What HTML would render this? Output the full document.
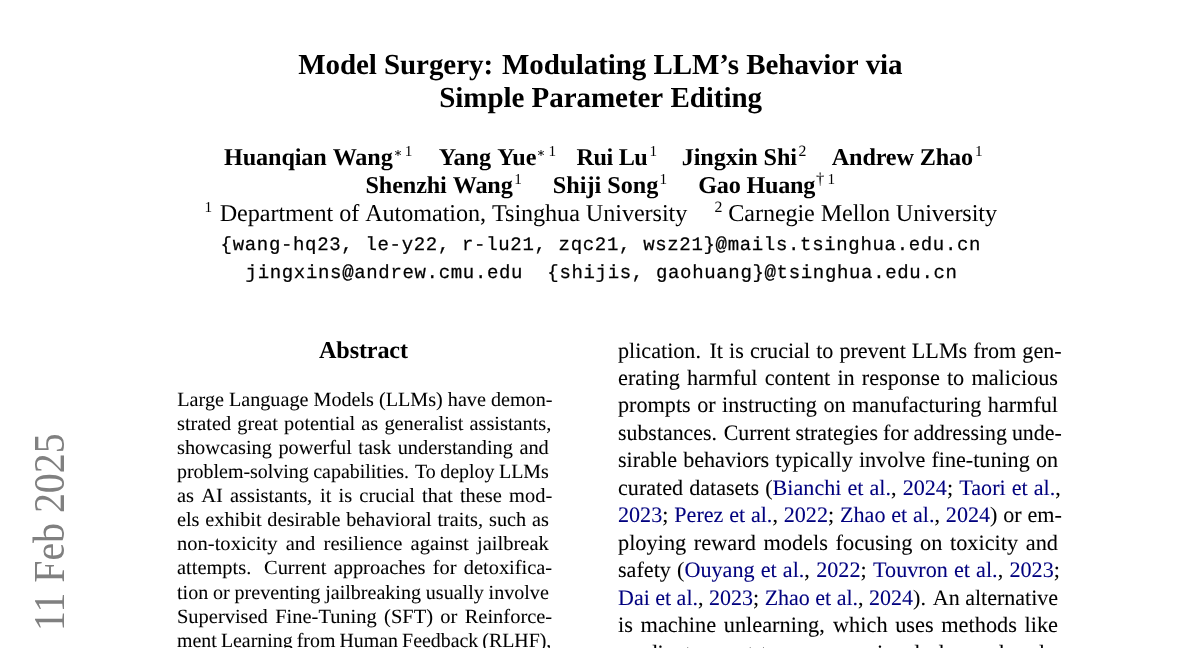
<!DOCTYPE html>
<html lang="en"><head><meta charset="utf-8"><title>Model Surgery: Modulating LLM's Behavior via Simple Parameter Editing</title>
<style>
html,body{margin:0;padding:0;background:#fff;}
body{width:1200px;height:648px;position:relative;overflow:hidden;color:#000;font-family:"Liberation Serif",serif;}
#pg{position:absolute;left:0;top:0;width:1200px;height:648px;overflow:hidden;will-change:transform;}
.l{position:absolute;white-space:pre;margin:0;padding:0;line-height:40px;font-kerning:normal;text-rendering:geometricPrecision;transform-origin:0 0;}
.l span{white-space:pre;}
</style></head><body><div id="pg">
<div class="l" style="left:298.20px;top:45px;font-size:29.029px;font-family:'Liberation Serif',serif;font-weight:bold;letter-spacing:-0.0757px;">Model<span style="word-spacing:0.01px"> </span>Surgery:<span style="word-spacing:1.74px"> </span>Modulating<span style="word-spacing:0.01px"> </span>LLM’s<span style="word-spacing:0.01px"> </span>Behavior<span style="word-spacing:0.01px"> </span>via</div>
<div class="l" style="left:439.20px;top:78px;font-size:29.029px;font-family:'Liberation Serif',serif;font-weight:bold;letter-spacing:-0.0522px;">Simple<span style="word-spacing:0.01px"> </span>Parameter<span style="word-spacing:0.01px"> </span>Editing</div>
<div class="l" style="left:224.00px;top:138px;font-size:24.190px;font-family:'Liberation Serif',serif;font-weight:bold;letter-spacing:-0.1078px;">Huanqian<span style="word-spacing:0.01px"> </span>Wang</div>
<div class="l" style="left:438.80px;top:138px;font-size:24.190px;font-family:'Liberation Serif',serif;font-weight:bold;letter-spacing:-0.0339px;">Yang<span style="word-spacing:0.01px"> </span>Yue</div>
<div class="l" style="left:576.50px;top:138px;font-size:24.190px;font-family:'Liberation Serif',serif;font-weight:bold;letter-spacing:-0.3994px;">Rui<span style="word-spacing:0.01px"> </span>Lu</div>
<div class="l" style="left:681.70px;top:138px;font-size:24.190px;font-family:'Liberation Serif',serif;font-weight:bold;letter-spacing:-0.1028px;">Jingxin<span style="word-spacing:0.01px"> </span>Shi</div>
<div class="l" style="left:831.80px;top:138px;font-size:24.190px;font-family:'Liberation Serif',serif;font-weight:bold;letter-spacing:-0.1519px;">Andrew<span style="word-spacing:0.01px"> </span>Zhao</div>
<div class="l" style="left:365.50px;top:166px;font-size:24.190px;font-family:'Liberation Serif',serif;font-weight:bold;letter-spacing:-0.1148px;">Shenzhi<span style="word-spacing:0.01px"> </span>Wang</div>
<div class="l" style="left:552.80px;top:166px;font-size:24.190px;font-family:'Liberation Serif',serif;font-weight:bold;letter-spacing:-0.0069px;">Shiji<span style="word-spacing:0.01px"> </span>Song</div>
<div class="l" style="left:698.30px;top:166px;font-size:24.190px;font-family:'Liberation Serif',serif;font-weight:bold;letter-spacing:-0.2480px;">Gao<span style="word-spacing:0.01px"> </span>Huang</div>
<div class="l" style="left:219.70px;top:194px;font-size:24.190px;font-family:'Liberation Serif',serif;font-weight:normal;letter-spacing:-0.0695px;">Department<span style="word-spacing:0.01px"> </span>of<span style="word-spacing:0.01px"> </span>Automation,<span style="word-spacing:0.01px"> </span>Tsinghua<span style="word-spacing:0.01px"> </span>University</div>
<div class="l" style="left:728.30px;top:194px;font-size:24.190px;font-family:'Liberation Serif',serif;font-weight:normal;letter-spacing:-0.1095px;">Carnegie<span style="word-spacing:0.01px"> </span>Mellon<span style="word-spacing:0.01px"> </span>University</div>
<div class="l" style="left:220.60px;top:225px;font-size:19.000px;font-family:'Liberation Mono',monospace;font-weight:normal;letter-spacing:0.6705px;-webkit-text-stroke:0.25px #000;">{wang-hq23, le-y22, r-lu21, zqc21, wsz21}@mails.tsinghua.edu.cn</div>
<div class="l" style="left:245.60px;top:253px;font-size:19.000px;font-family:'Liberation Mono',monospace;font-weight:normal;letter-spacing:0.6669px;-webkit-text-stroke:0.25px #000;">jingxins@andrew.cmu.edu  {shijis, gaohuang}@tsinghua.edu.cn</div>
<div class="l" style="left:319.00px;top:331px;font-size:24.190px;font-family:'Liberation Serif',serif;font-weight:bold;letter-spacing:-0.1451px;">Abstract</div>
<div class="l" style="left:404.80px;top:132px;font-size:15.200px;font-family:'Liberation Serif',serif;font-weight:normal;">1</div>
<div class="l" style="left:548.60px;top:132px;font-size:15.200px;font-family:'Liberation Serif',serif;font-weight:normal;">1</div>
<div class="l" style="left:649.40px;top:132px;font-size:15.200px;font-family:'Liberation Serif',serif;font-weight:normal;">1</div>
<div class="l" style="left:975.00px;top:132px;font-size:15.200px;font-family:'Liberation Serif',serif;font-weight:normal;">1</div>
<div class="l" style="left:798.60px;top:132px;font-size:15.800px;font-family:'Liberation Serif',serif;font-weight:normal;">2</div>
<div class="l" style="left:514.30px;top:160px;font-size:15.200px;font-family:'Liberation Serif',serif;font-weight:normal;">1</div>
<div class="l" style="left:659.40px;top:160px;font-size:15.200px;font-family:'Liberation Serif',serif;font-weight:normal;">1</div>
<div class="l" style="left:827.60px;top:160px;font-size:15.200px;font-family:'Liberation Serif',serif;font-weight:normal;">1</div>
<div class="l" style="left:204.40px;top:188px;font-size:15.200px;font-family:'Liberation Serif',serif;font-weight:normal;">1</div>
<div class="l" style="left:714.40px;top:188px;font-size:15.800px;font-family:'Liberation Serif',serif;font-weight:normal;">2</div>
<div class="l" style="left:816.00px;top:159px;font-size:16.500px;font-family:'Liberation Serif',serif;font-weight:normal;">†</div>
<div class="l" style="left:177.30px;top:380px;font-size:20.159px;font-family:'Liberation Serif',serif;font-weight:normal;-webkit-text-stroke:0.08px;">Large<span style="word-spacing:0.04px"> </span>Language<span style="word-spacing:0.04px"> </span>Models<span style="word-spacing:0.04px"> </span>(LLMs)<span style="word-spacing:0.04px"> </span>have<span style="word-spacing:0.04px"> </span>demon-</div>
<div class="l" style="left:177.30px;top:404px;font-size:20.159px;font-family:'Liberation Serif',serif;font-weight:normal;transform:scaleX(1.008);-webkit-text-stroke:0.08px;">strated<span style="word-spacing:1.10px"> </span>great<span style="word-spacing:1.10px"> </span>potential<span style="word-spacing:1.10px"> </span>as<span style="word-spacing:1.10px"> </span>generalist<span style="word-spacing:1.10px"> </span>assistants,</div>
<div class="l" style="left:177.30px;top:428px;font-size:20.159px;font-family:'Liberation Serif',serif;font-weight:normal;transform:scaleX(1.010);-webkit-text-stroke:0.08px;">showcasing<span style="word-spacing:1.40px"> </span>powerful<span style="word-spacing:1.40px"> </span>task<span style="word-spacing:1.40px"> </span>understanding<span style="word-spacing:1.40px"> </span>and</div>
<div class="l" style="left:177.30px;top:452px;font-size:20.159px;font-family:'Liberation Serif',serif;font-weight:normal;transform:scaleX(0.990);-webkit-text-stroke:0.08px;">problem-solving<span style="word-spacing:-0.57px"> </span>capabilities.<span style="word-spacing:1.07px"> </span>To<span style="word-spacing:-0.57px"> </span>deploy<span style="word-spacing:-0.57px"> </span>LLMs</div>
<div class="l" style="left:177.30px;top:476px;font-size:20.159px;font-family:'Liberation Serif',serif;font-weight:normal;transform:scaleX(1.014);-webkit-text-stroke:0.08px;">as<span style="word-spacing:2.05px"> </span>AI<span style="word-spacing:2.05px"> </span>assistants,<span style="word-spacing:2.58px"> </span>it<span style="word-spacing:2.05px"> </span>is<span style="word-spacing:2.05px"> </span>crucial<span style="word-spacing:2.05px"> </span>that<span style="word-spacing:2.05px"> </span>these<span style="word-spacing:2.05px"> </span>mod-</div>
<div class="l" style="left:177.30px;top:500px;font-size:20.159px;font-family:'Liberation Serif',serif;font-weight:normal;transform:scaleX(1.005);-webkit-text-stroke:0.08px;">els<span style="word-spacing:0.75px"> </span>exhibit<span style="word-spacing:0.75px"> </span>desirable<span style="word-spacing:0.75px"> </span>behavioral<span style="word-spacing:0.75px"> </span>traits,<span style="word-spacing:0.94px"> </span>such<span style="word-spacing:0.75px"> </span>as</div>
<div class="l" style="left:177.30px;top:524px;font-size:20.159px;font-family:'Liberation Serif',serif;font-weight:normal;transform:scaleX(1.020);-webkit-text-stroke:0.08px;">non-toxicity<span style="word-spacing:3.03px"> </span>and<span style="word-spacing:3.03px"> </span>resilience<span style="word-spacing:3.03px"> </span>against<span style="word-spacing:3.03px"> </span>jailbreak</div>
<div class="l" style="left:177.30px;top:548px;font-size:20.159px;font-family:'Liberation Serif',serif;font-weight:normal;transform:scaleX(1.014);-webkit-text-stroke:0.08px;">attempts.<span style="word-spacing:7.51px"> </span>Current<span style="word-spacing:2.06px"> </span>approaches<span style="word-spacing:2.06px"> </span>for<span style="word-spacing:2.06px"> </span>detoxifica-</div>
<div class="l" style="left:177.30px;top:573px;font-size:20.159px;font-family:'Liberation Serif',serif;font-weight:normal;transform:scaleX(0.996);-webkit-text-stroke:0.08px;">tion<span style="word-spacing:-0.20px"> </span>or<span style="word-spacing:-0.20px"> </span>preventing<span style="word-spacing:-0.20px"> </span>jailbreaking<span style="word-spacing:-0.20px"> </span>usually<span style="word-spacing:-0.20px"> </span>involve</div>
<div class="l" style="left:177.30px;top:597px;font-size:20.159px;font-family:'Liberation Serif',serif;font-weight:normal;transform:scaleX(1.015);-webkit-text-stroke:0.08px;">Supervised<span style="word-spacing:2.23px"> </span>Fine-Tuning<span style="word-spacing:2.23px"> </span>(SFT)<span style="word-spacing:2.23px"> </span>or<span style="word-spacing:2.23px"> </span>Reinforce-</div>
<div class="l" style="left:177.30px;top:621px;font-size:20.159px;font-family:'Liberation Serif',serif;font-weight:normal;transform:scaleX(0.986);-webkit-text-stroke:0.08px;">ment<span style="word-spacing:-0.82px"> </span>Learning<span style="word-spacing:-0.82px"> </span>from<span style="word-spacing:-0.82px"> </span>Human<span style="word-spacing:-0.82px"> </span>Feedback<span style="word-spacing:-0.82px"> </span>(RLHF),</div>
<div class="l" style="left:618.00px;top:331px;font-size:22.074px;font-family:'Liberation Serif',serif;font-weight:normal;transform:scaleX(1.003);-webkit-text-stroke:0.08px;">plication.<span style="word-spacing:2.95px"> </span>It<span style="word-spacing:0.53px"> </span>is<span style="word-spacing:0.53px"> </span>crucial<span style="word-spacing:0.53px"> </span>to<span style="word-spacing:0.53px"> </span>prevent<span style="word-spacing:0.53px"> </span>LLMs<span style="word-spacing:0.53px"> </span>from<span style="word-spacing:0.53px"> </span>gen-</div>
<div class="l" style="left:618.00px;top:358px;font-size:22.074px;font-family:'Liberation Serif',serif;font-weight:normal;transform:scaleX(1.010);-webkit-text-stroke:0.08px;">erating<span style="word-spacing:1.52px"> </span>harmful<span style="word-spacing:1.52px"> </span>content<span style="word-spacing:1.52px"> </span>in<span style="word-spacing:1.52px"> </span>response<span style="word-spacing:1.52px"> </span>to<span style="word-spacing:1.52px"> </span>malicious</div>
<div class="l" style="left:618.00px;top:385px;font-size:22.074px;font-family:'Liberation Serif',serif;font-weight:normal;transform:scaleX(1.005);-webkit-text-stroke:0.08px;">prompts<span style="word-spacing:0.91px"> </span>or<span style="word-spacing:0.91px"> </span>instructing<span style="word-spacing:0.91px"> </span>on<span style="word-spacing:0.91px"> </span>manufacturing<span style="word-spacing:0.91px"> </span>harmful</div>
<div class="l" style="left:618.00px;top:413px;font-size:22.074px;font-family:'Liberation Serif',serif;font-weight:normal;transform:scaleX(0.991);-webkit-text-stroke:0.08px;">substances.<span style="word-spacing:1.20px"> </span>Current<span style="word-spacing:-0.51px"> </span>strategies<span style="word-spacing:-0.51px"> </span>for<span style="word-spacing:-0.51px"> </span>addressing<span style="word-spacing:-0.51px"> </span>unde-</div>
<div class="l" style="left:618.00px;top:440px;font-size:22.074px;font-family:'Liberation Serif',serif;font-weight:normal;transform:scaleX(1.003);-webkit-text-stroke:0.08px;">sirable<span style="word-spacing:0.60px"> </span>behaviors<span style="word-spacing:0.60px"> </span>typically<span style="word-spacing:0.60px"> </span>involve<span style="word-spacing:0.60px"> </span>fine-tuning<span style="word-spacing:0.60px"> </span>on</div>
<div class="l" style="left:618.00px;top:468px;font-size:22.074px;font-family:'Liberation Serif',serif;font-weight:normal;transform:scaleX(1.003);-webkit-text-stroke:0.08px;">curated<span style="word-spacing:0.48px"> </span>datasets<span style="word-spacing:0.48px"> </span>(<span style="color:#00007f">Bianchi</span><span style="word-spacing:0.48px"> </span><span style="color:#00007f">et</span><span style="word-spacing:0.48px"> </span><span style="color:#00007f">al.</span>,<span style="word-spacing:0.60px"> </span><span style="color:#00007f">2024</span>;<span style="word-spacing:0.73px"> </span><span style="color:#00007f">Taori</span><span style="word-spacing:0.48px"> </span><span style="color:#00007f">et</span><span style="word-spacing:0.48px"> </span><span style="color:#00007f">al.</span>,</div>
<div class="l" style="left:618.00px;top:495px;font-size:22.074px;font-family:'Liberation Serif',serif;font-weight:normal;transform:scaleX(1.002);-webkit-text-stroke:0.08px;"><span style="color:#00007f">2023</span>;<span style="word-spacing:0.36px"> </span><span style="color:#00007f">Perez</span><span style="word-spacing:0.24px"> </span><span style="color:#00007f">et</span><span style="word-spacing:0.24px"> </span><span style="color:#00007f">al.</span>,<span style="word-spacing:0.30px"> </span><span style="color:#00007f">2022</span>;<span style="word-spacing:0.36px"> </span><span style="color:#00007f">Zhao</span><span style="word-spacing:0.24px"> </span><span style="color:#00007f">et</span><span style="word-spacing:0.24px"> </span><span style="color:#00007f">al.</span>,<span style="word-spacing:0.30px"> </span><span style="color:#00007f">2024</span>)<span style="word-spacing:0.24px"> </span>or<span style="word-spacing:0.24px"> </span>em-</div>
<div class="l" style="left:618.00px;top:523px;font-size:22.074px;font-family:'Liberation Serif',serif;font-weight:normal;transform:scaleX(1.012);-webkit-text-stroke:0.08px;">ploying<span style="word-spacing:1.99px"> </span>reward<span style="word-spacing:1.99px"> </span>models<span style="word-spacing:1.99px"> </span>focusing<span style="word-spacing:1.99px"> </span>on<span style="word-spacing:1.99px"> </span>toxicity<span style="word-spacing:1.99px"> </span>and</div>
<div class="l" style="left:618.00px;top:550px;font-size:22.074px;font-family:'Liberation Serif',serif;font-weight:normal;transform:scaleX(1.004);-webkit-text-stroke:0.08px;">safety<span style="word-spacing:0.58px"> </span>(<span style="color:#00007f">Ouyang</span><span style="word-spacing:0.58px"> </span><span style="color:#00007f">et</span><span style="word-spacing:0.58px"> </span><span style="color:#00007f">al.</span>,<span style="word-spacing:0.73px"> </span><span style="color:#00007f">2022</span>;<span style="word-spacing:0.88px"> </span><span style="color:#00007f">Touvron</span><span style="word-spacing:0.58px"> </span><span style="color:#00007f">et</span><span style="word-spacing:0.58px"> </span><span style="color:#00007f">al.</span>,<span style="word-spacing:0.73px"> </span><span style="color:#00007f">2023</span>;</div>
<div class="l" style="left:618.00px;top:578px;font-size:22.074px;font-family:'Liberation Serif',serif;font-weight:normal;transform:scaleX(0.998);-webkit-text-stroke:0.08px;"><span style="color:#00007f">Dai</span><span style="word-spacing:-0.06px"> </span><span style="color:#00007f">et</span><span style="word-spacing:-0.06px"> </span><span style="color:#00007f">al.</span>,<span style="word-spacing:-0.05px"> </span><span style="color:#00007f">2023</span>;<span style="word-spacing:-0.04px"> </span><span style="color:#00007f">Zhao</span><span style="word-spacing:-0.06px"> </span><span style="color:#00007f">et</span><span style="word-spacing:-0.06px"> </span><span style="color:#00007f">al.</span>,<span style="word-spacing:-0.05px"> </span><span style="color:#00007f">2024</span>).<span style="word-spacing:1.31px"> </span>An<span style="word-spacing:-0.06px"> </span>alternative</div>
<div class="l" style="left:618.00px;top:605px;font-size:22.074px;font-family:'Liberation Serif',serif;font-weight:normal;transform:scaleX(1.012);-webkit-text-stroke:0.08px;">is<span style="word-spacing:2.01px"> </span>machine<span style="word-spacing:2.01px"> </span>unlearning,<span style="word-spacing:2.53px"> </span>which<span style="word-spacing:2.01px"> </span>uses<span style="word-spacing:2.01px"> </span>methods<span style="word-spacing:2.01px"> </span>like</div>
<div class="l" style="left:618.00px;top:633px;font-size:22.074px;font-family:'Liberation Serif',serif;font-weight:normal;transform:scaleX(1.009);-webkit-text-stroke:0.08px;">gradient<span style="word-spacing:1.40px"> </span>ascent<span style="word-spacing:1.40px"> </span>to<span style="word-spacing:1.40px"> </span>erase<span style="word-spacing:1.40px"> </span>previously<span style="word-spacing:1.40px"> </span>learned<span style="word-spacing:1.40px"> </span>unde-</div>
<svg style="position:absolute;left:392.60px;top:147.80px" width="10" height="10" viewBox="-5 -5 10 10"><g stroke="#000" stroke-width="0.85" stroke-linecap="round"><line x1="0" y1="-2.6" x2="0" y2="2.6"/><line x1="-2.6" y1="-1.45" x2="2.6" y2="1.45"/><line x1="-2.6" y1="1.45" x2="2.6" y2="-1.45"/></g></svg>
<svg style="position:absolute;left:536.00px;top:147.80px" width="10" height="10" viewBox="-5 -5 10 10"><g stroke="#000" stroke-width="0.85" stroke-linecap="round"><line x1="0" y1="-2.6" x2="0" y2="2.6"/><line x1="-2.6" y1="-1.45" x2="2.6" y2="1.45"/><line x1="-2.6" y1="1.45" x2="2.6" y2="-1.45"/></g></svg>
<svg style="position:absolute;left:0;top:0" width="120" height="648" viewBox="0 0 120 648"><text x="0" y="0" transform="translate(64.4 631) rotate(-90)" font-family="'Liberation Serif',serif" font-size="44" fill="#808080" textLength="197.6" lengthAdjust="spacingAndGlyphs">11 Feb 2025</text></svg>
</div></body></html>
